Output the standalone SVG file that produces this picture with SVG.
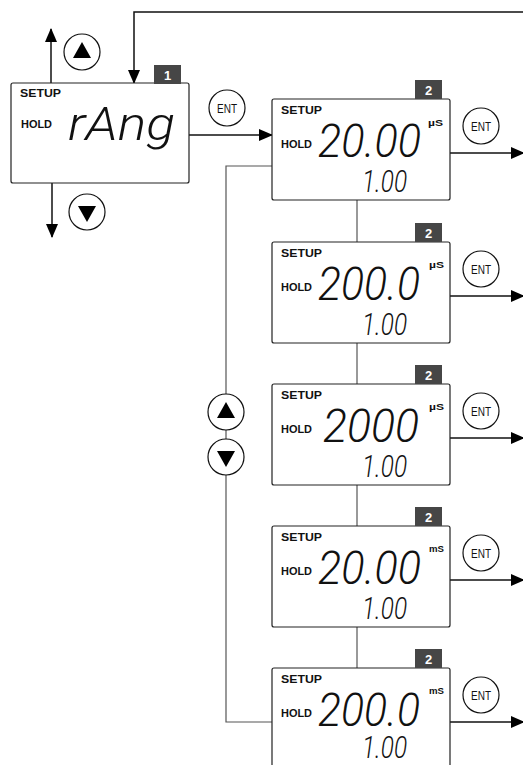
<svg xmlns="http://www.w3.org/2000/svg" width="523" height="765" viewBox="0 0 523 765">
<defs>
<marker id="ah" markerUnits="userSpaceOnUse" markerWidth="14" markerHeight="12" refX="13" refY="6" orient="auto">
<path d="M0,0 L14,6 L0,12 Z" fill="#000"/>
</marker>
<style>
.box{fill:#fff;stroke:#222;stroke-width:1.2}
.badge{fill:#464646}
.bt{font-family:"Liberation Sans",Arial,sans-serif;font-weight:bold;font-size:13px;fill:#fff;text-anchor:middle}
.setup{font-family:"Liberation Sans",Arial,sans-serif;font-weight:bold;font-size:11.5px;fill:#111}
.hold{font-family:"Liberation Sans",Arial,sans-serif;font-weight:bold;font-size:10px;fill:#111}
.unit{font-family:"Liberation Sans",Arial,sans-serif;font-weight:bold;font-size:9px;fill:#111}
.big{font-family:Roboto,"DejaVu Sans",sans-serif;font-weight:300;font-size:46px;fill:#111;font-style:italic}
.small{font-family:Roboto,"DejaVu Sans",sans-serif;font-weight:300;font-size:31px;fill:#111;font-style:italic}
.btn{fill:#fff;stroke:#111;stroke-width:1.2}
.ent{font-family:"Liberation Sans Narrow","Liberation Sans",sans-serif;font-size:12.5px;fill:#111;text-anchor:middle}
.arr{fill:none;stroke:#111;stroke-width:1.5}
.link{fill:none;stroke:#555;stroke-width:1.2}
</style>
</defs>

<g id="connectors">
<polyline class="arr" points="523,12 134,12 134,83" marker-end="url(#ah)"/>
<line class="arr" x1="51" y1="83" x2="51" y2="29" marker-end="url(#ah)"/>
<line class="arr" x1="52" y1="183" x2="52" y2="237" marker-end="url(#ah)"/>
<line class="arr" x1="189" y1="135" x2="272" y2="135" marker-end="url(#ah)"/>
<line class="arr" x1="450" y1="153" x2="524" y2="153" marker-end="url(#ah)"/>
<line class="arr" x1="450" y1="296" x2="524" y2="296" marker-end="url(#ah)"/>
<line class="arr" x1="450" y1="438" x2="524" y2="438" marker-end="url(#ah)"/>
<line class="arr" x1="450" y1="580" x2="524" y2="580" marker-end="url(#ah)"/>
<line class="arr" x1="450" y1="722" x2="524" y2="722" marker-end="url(#ah)"/>
<line class="link" x1="357" y1="200" x2="357" y2="242"/>
<line class="link" x1="357" y1="343" x2="357" y2="384"/>
<line class="link" x1="357" y1="485" x2="357" y2="526"/>
<line class="link" x1="357" y1="627" x2="357" y2="668"/>
<polyline class="link" points="272,166 226,166 226,722 272,722"/>
</g>

<g id="btn-up-1">
<circle class="btn" cx="82" cy="52" r="18"/>
<path d="M82,42 L91,58 L73,58 Z" fill="#000"/>
</g>
<g id="btn-down-1">
<circle class="btn" cx="87" cy="212" r="18"/>
<path d="M87,222 L96,206 L78,206 Z" fill="#000"/>
</g>
<g id="btn-up-2">
<circle class="btn" cx="226" cy="412" r="18"/>
<path d="M226,402 L235,418 L217,418 Z" fill="#000"/>
</g>
<g id="btn-down-2">
<circle class="btn" cx="226" cy="457" r="18"/>
<path d="M226,467 L235,451 L217,451 Z" fill="#000"/>
</g>

<g id="ent-1">
<circle class="btn" cx="227" cy="108" r="18"/>
<text class="ent" x="227" y="112.5" textLength="20" lengthAdjust="spacingAndGlyphs">ENT</text>
</g>

<g id="node-1">
<rect class="box" x="11" y="83" width="178" height="100" rx="2"/>
<rect class="badge" x="154" y="65" width="27" height="19"/>
<text class="bt" x="167.5" y="80">1</text>
<text class="setup" x="20" y="97" textLength="41" lengthAdjust="spacingAndGlyphs">SETUP</text>
<text class="hold" x="21" y="128" textLength="31" lengthAdjust="spacingAndGlyphs">HOLD</text>
<text class="big" x="68" y="140" font-size="50" textLength="107" lengthAdjust="spacingAndGlyphs">rAng</text>
</g>

<g id="node-2a">
<rect class="box" x="272" y="99" width="178" height="101" rx="2"/>
<rect class="badge" x="415" y="80" width="27" height="19"/>
<text class="bt" x="428.5" y="95">2</text>
<text class="setup" x="281" y="114" textLength="41" lengthAdjust="spacingAndGlyphs">SETUP</text>
<text class="hold" x="281" y="148" textLength="31" lengthAdjust="spacingAndGlyphs">HOLD</text>
<text class="big" x="318" y="157" textLength="103" lengthAdjust="spacingAndGlyphs">20.00</text>
<text class="unit" x="428" y="126" textLength="15" lengthAdjust="spacingAndGlyphs">µS</text>
<text class="small" x="362" y="192" textLength="45" lengthAdjust="spacingAndGlyphs">1.00</text>
<circle class="btn" cx="481" cy="126" r="18"/>
<text class="ent" x="481" y="130.5" textLength="20" lengthAdjust="spacingAndGlyphs">ENT</text>
</g>

<g id="node-2b">
<rect class="box" x="272" y="242" width="178" height="101" rx="2"/>
<rect class="badge" x="415" y="223" width="27" height="19"/>
<text class="bt" x="428.5" y="238">2</text>
<text class="setup" x="281" y="257" textLength="41" lengthAdjust="spacingAndGlyphs">SETUP</text>
<text class="hold" x="281" y="291" textLength="31" lengthAdjust="spacingAndGlyphs">HOLD</text>
<text class="big" x="318" y="300" textLength="102" lengthAdjust="spacingAndGlyphs">200.0</text>
<text class="unit" x="429" y="268" textLength="15" lengthAdjust="spacingAndGlyphs">µS</text>
<text class="small" x="362" y="335" textLength="45" lengthAdjust="spacingAndGlyphs">1.00</text>
<circle class="btn" cx="481" cy="269" r="18"/>
<text class="ent" x="481" y="273.5" textLength="20" lengthAdjust="spacingAndGlyphs">ENT</text>
</g>

<g id="node-2c">
<rect class="box" x="272" y="384" width="178" height="101" rx="2"/>
<rect class="badge" x="415" y="365" width="27" height="19"/>
<text class="bt" x="428.5" y="380">2</text>
<text class="setup" x="281" y="399" textLength="41" lengthAdjust="spacingAndGlyphs">SETUP</text>
<text class="hold" x="281" y="433" textLength="31" lengthAdjust="spacingAndGlyphs">HOLD</text>
<text class="big" x="323" y="442" textLength="96" lengthAdjust="spacingAndGlyphs">2000</text>
<text class="unit" x="429" y="410" textLength="15" lengthAdjust="spacingAndGlyphs">µS</text>
<text class="small" x="362" y="477" textLength="45" lengthAdjust="spacingAndGlyphs">1.00</text>
<circle class="btn" cx="481" cy="411" r="18"/>
<text class="ent" x="481" y="415.5" textLength="20" lengthAdjust="spacingAndGlyphs">ENT</text>
</g>

<g id="node-2d">
<rect class="box" x="272" y="526" width="178" height="101" rx="2"/>
<rect class="badge" x="415" y="507" width="27" height="19"/>
<text class="bt" x="428.5" y="522">2</text>
<text class="setup" x="281" y="541" textLength="41" lengthAdjust="spacingAndGlyphs">SETUP</text>
<text class="hold" x="281" y="575" textLength="31" lengthAdjust="spacingAndGlyphs">HOLD</text>
<text class="big" x="318" y="584" textLength="103" lengthAdjust="spacingAndGlyphs">20.00</text>
<text class="unit" x="429" y="552" textLength="15" lengthAdjust="spacingAndGlyphs">mS</text>
<text class="small" x="362" y="619" textLength="45" lengthAdjust="spacingAndGlyphs">1.00</text>
<circle class="btn" cx="481" cy="553" r="18"/>
<text class="ent" x="481" y="557.5" textLength="20" lengthAdjust="spacingAndGlyphs">ENT</text>
</g>

<g id="node-2e">
<rect class="box" x="272" y="668" width="178" height="101" rx="2"/>
<rect class="badge" x="415" y="649" width="27" height="19"/>
<text class="bt" x="428.5" y="664">2</text>
<text class="setup" x="281" y="683" textLength="41" lengthAdjust="spacingAndGlyphs">SETUP</text>
<text class="hold" x="281" y="717" textLength="31" lengthAdjust="spacingAndGlyphs">HOLD</text>
<text class="big" x="318" y="726" textLength="102" lengthAdjust="spacingAndGlyphs">200.0</text>
<text class="unit" x="429" y="694" textLength="15" lengthAdjust="spacingAndGlyphs">mS</text>
<text class="small" x="362" y="758" textLength="45" lengthAdjust="spacingAndGlyphs">1.00</text>
<circle class="btn" cx="481" cy="695" r="18"/>
<text class="ent" x="481" y="699.5" textLength="20" lengthAdjust="spacingAndGlyphs">ENT</text>
</g>
</svg>
